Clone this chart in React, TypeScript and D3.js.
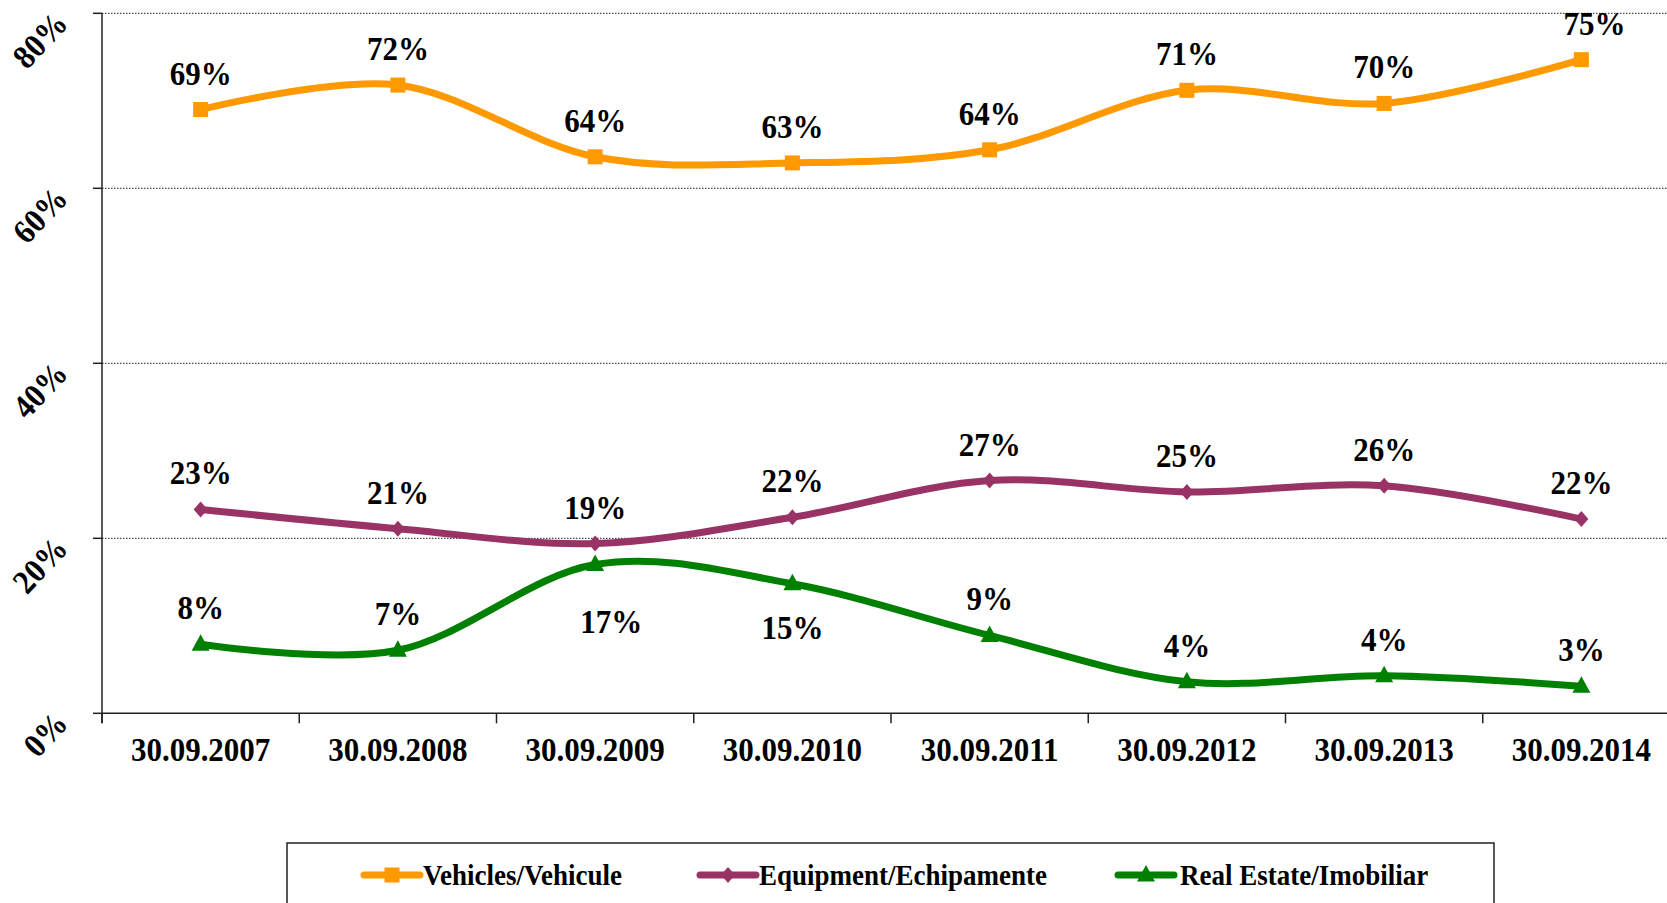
import React from "react";
import * as d3 from "d3";

const categories = ["30.09.2007", "30.09.2008", "30.09.2009", "30.09.2010", "30.09.2011", "30.09.2012", "30.09.2013", "30.09.2014"];
const vehicles = [69.0, 71.8, 63.6, 62.9, 64.4, 71.2, 69.7, 74.7];
const equipment = [23.3, 21.1, 19.4, 22.4, 26.6, 25.3, 26.0, 22.2];
const realEstate = [7.9, 7.2, 17.0, 14.8, 8.9, 3.6, 4.3, 3.1];
const yTicks = [0, 20, 40, 60, 80];
const seriesNames = ["Vehicles/Vehicule", "Equipment/Echipamente", "Real Estate/Imobiliar"];

// label placement (layout only)
const vehLabelDx = [0, 0, 0, 0, 0, 0, 0, 13];
const reLabelDy = [-36, -36, 57, 44, -36, -36, -36, -36];
const reLabelDx = [0, 0, 16, 0, 0, 0, 0, 0];

const W = 1667;
const H = 903;
const FONT = "'Liberation Serif', 'Times New Roman', serif";
const SY = 1.08; // slight vertical stretch of text

export default function App() {
  const x = d3.scaleBand<string>().domain(categories).range([102, 1680]);
  const y = d3.scaleLinear().domain([0, 80]).range([713.3, 13.3]);
  const cx = (c: string) => (x(c) as number) + x.bandwidth() / 2;
  const line = d3
    .line<number>()
    .x((_, i) => cx(categories[i]))
    .y((d) => y(d))
    .curve(d3.curveCardinal.tension(0));

  const series = [
    { name: seriesNames[0], data: vehicles, color: "#FF9900", marker: "square", dx: vehLabelDx, dy: vehicles.map(() => -36) },
    { name: seriesNames[1], data: equipment, color: "#993366", marker: "diamond", dx: equipment.map(() => 0), dy: equipment.map(() => -36) },
    { name: seriesNames[2], data: realEstate, color: "#008000", marker: "triangle", dx: reLabelDx, dy: reLabelDy },
  ];

  const drawMarker = (m: string, color: string, px: number, py: number, key: string | number) => {
    if (m === "square") return <rect key={key} x={px - 7.5} y={py - 7.5} width={15} height={15} fill={color} />;
    if (m === "diamond")
      return <path key={key} d={`M${px},${py - 8}L${px + 7},${py}L${px},${py + 8}L${px - 7},${py}Z`} fill={color} />;
    return <path key={key} d={`M${px},${py - 10}L${px + 9},${py + 6.5}L${px - 9},${py + 6.5}Z`} fill={color} />;
  };

  const x0 = 102;
  const y0 = y(0);
  const boundaries = d3.range(categories.length + 1).map((i) => x0 + i * x.bandwidth());

  const legendItems = [
    { lx: 364, tx: 423 },
    { lx: 700, tx: 759 },
    { lx: 1118, tx: 1180 },
  ];

  return (
    <div>
      <style>{`body{margin:0;overflow:hidden;background:#fff}`}</style>
      <svg width={W} height={H} style={{ display: "block" }} fontFamily={FONT}>
        <rect x={0} y={0} width={W} height={H} fill="#fff" />
        {/* gridlines */}
        {yTicks.filter((t) => t > 0).map((t) => (
          <line key={t} x1={x0} x2={W} y1={y(t)} y2={y(t)} stroke="#222" strokeWidth={1} strokeDasharray="1.5,1.5" />
        ))}
        {/* axes */}
        <line x1={x0} x2={x0} y1={y(80)} y2={y0 + 10} stroke="#222" strokeWidth={1.5} />
        <line x1={x0} x2={W} y1={y0} y2={y0} stroke="#222" strokeWidth={1.5} />
        {yTicks.map((t) => (
          <line key={"yt" + t} x1={x0 - 9} x2={x0} y1={y(t)} y2={y(t)} stroke="#222" strokeWidth={1.5} />
        ))}
        {boundaries.map((b, i) => (
          <line key={"xt" + i} x1={b} x2={b} y1={y0} y2={y0 + 10} stroke="#222" strokeWidth={1.5} />
        ))}
        {/* y labels */}
        {yTicks.map((t) => (
          <text
            key={"yl" + t}
            transform={`translate(61,${y(t) + 4}) rotate(-47) scale(1,${SY})`}
            textAnchor="end"
            dominantBaseline="central"
            fontSize={31}
            fontWeight="bold"
          >
            {t + "%"}
          </text>
        ))}
        {/* x labels */}
        {categories.map((c) => (
          <text
            key={"xl" + c}
            transform={`translate(${cx(c)},761) scale(1,${SY})`}
            textAnchor="middle"
            fontSize={31}
            fontWeight="bold"
          >
            {c}
          </text>
        ))}
        {/* lines */}
        {series.map((s) => (
          <path key={"ln" + s.name} d={line(s.data) || ""} fill="none" stroke={s.color} strokeWidth={7} strokeLinejoin="round" />
        ))}
        {series.map((s) => (
          <g key={"mk" + s.name}>{s.data.map((v, i) => drawMarker(s.marker, s.color, cx(categories[i]), y(v), i))}</g>
        ))}
        {/* data labels */}
        {series.map((s) => (
          <g key={"lb" + s.name}>
            {s.data.map((v, i) => (
              <text
                key={i}
                transform={`translate(${cx(categories[i]) + s.dx[i]},${y(v) + s.dy[i] + 11}) scale(1,${SY})`}
                textAnchor="middle"
                fontSize={31}
                fontWeight="bold"
              >
                {Math.round(v) + "%"}
              </text>
            ))}
          </g>
        ))}
        {/* legend */}
        <rect x={287} y={843} width={1207} height={120} fill="none" stroke="#222" strokeWidth={1.5} />
        {series.map((s, i) => (
          <g key={"lg" + s.name}>
            <line x1={legendItems[i].lx} x2={legendItems[i].lx + 56} y1={875} y2={875} stroke={s.color} strokeWidth={7} strokeLinecap="round" />
            {drawMarker(s.marker, s.color, legendItems[i].lx + 28, 875, "m")}
            <text transform={`translate(${legendItems[i].tx},885) scale(1,${SY})`} fontSize={27} fontWeight="bold">
              {s.name}
            </text>
          </g>
        ))}
      </svg>
    </div>
  );
}
